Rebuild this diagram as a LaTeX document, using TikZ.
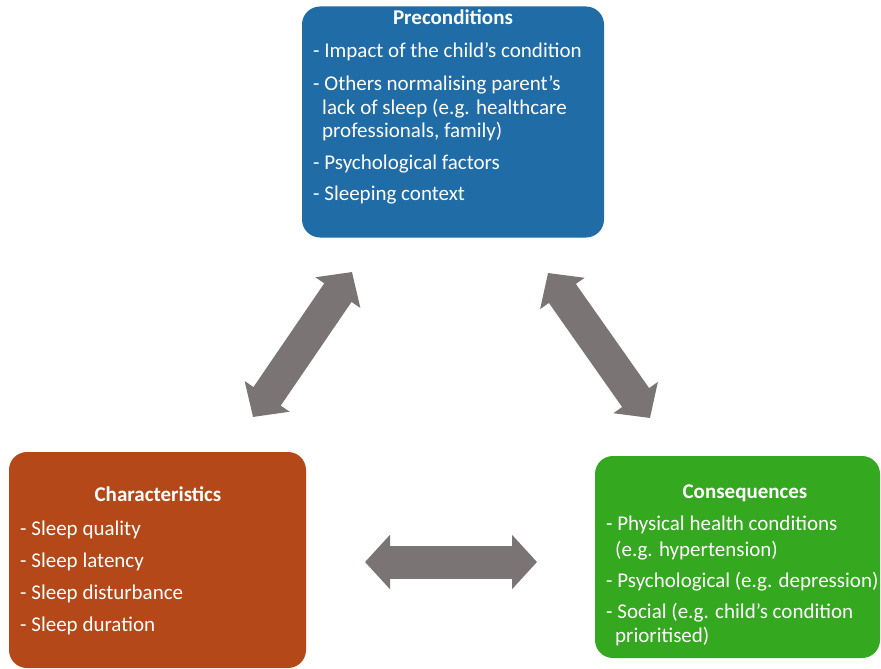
\documentclass[tikz,border=0pt]{standalone}
\usepackage{fontspec}
\setmainfont{Carlito}
\usetikzlibrary{arrows.meta}

\definecolor{preblue}{RGB}{31,108,167}
\definecolor{charbrown}{RGB}{181,72,24}
\definecolor{consgreen}{RGB}{52,168,30}
\definecolor{arrowgray}{RGB}{122,117,116}

\tikzset{
	box/.style={rectangle, rounded corners=18pt, inner sep=0pt, draw=none},
	boxtitle/.style={text=white, anchor=base, inner sep=0pt, font=\bfseries\fontsize{21}{24}\selectfont},
	% anchored at the baseline of the last line
	items/.style={text=white, align=left, anchor=base west, inner sep=0pt, font=\fontsize{21}{24}\selectfont},
	link/.style={draw=arrowgray, line width=33pt,
		{Triangle[width=53pt,length=25pt]}-{Triangle[width=53pt,length=25pt]}}
}

\begin{document}
\begin{tikzpicture}[x=1pt, y=-1pt]
	\useasboundingbox (0,0) rectangle (881,669);

	% the three boxes
	\node[box, fill=preblue, minimum width=302pt, minimum height=231pt] (pre) at (453,122) {};
	\node[box, fill=charbrown, minimum width=297pt, minimum height=216pt] (char) at (157.5,560) {};
	\node[box, fill=consgreen, minimum width=285pt, minimum height=202pt] (cons) at (737.5,557) {};

	% preconditions
	\node[boxtitle] (pretitle) at (453,25) {Preconditions};
	\node[items] (prelist) at (313,200) {- Impact of the child's condition\\[9pt]
		- Others normalising parent's\\
		\hspace*{9pt}lack of sleep (e.g. healthcare\\[-1pt]
		\hspace*{9pt}professionals, family)\\[8pt]
		- Psychological factors\\[7pt]
		- Sleeping context};

	% characteristics
	\node[boxtitle] (chartitle) at (158,501) {Characteristics};
	\node[items] (charlist) at (20,631) {- Sleep quality\\[8pt]
		- Sleep latency\\[8pt]
		- Sleep disturbance\\[8pt]
		- Sleep duration};

	% consequences
	\node[boxtitle] (constitle) at (745,498) {Consequences};
	\node[items] (conslist) at (606,642) {- Physical health conditions\\[2pt]
		\hspace*{9pt}(e.g. hypertension)\\[7pt]
		- Psychological (e.g. depression)\\[7pt]
		- Social (e.g. child's condition\\
		\hspace*{9pt}prioritised)};

	% arrow ends
	\coordinate (a1) at (253,417);
	\coordinate (a2) at (352,272);
	\coordinate (b1) at (548,273);
	\coordinate (b2) at (650,418);
	\coordinate (c1) at (365,562);
	\coordinate (c2) at (537,562);

	\draw[link] (a1) -- (a2);
	\draw[link] (b1) -- (b2);
	\draw[link] (c1) -- (c2);
\end{tikzpicture}
\end{document}
